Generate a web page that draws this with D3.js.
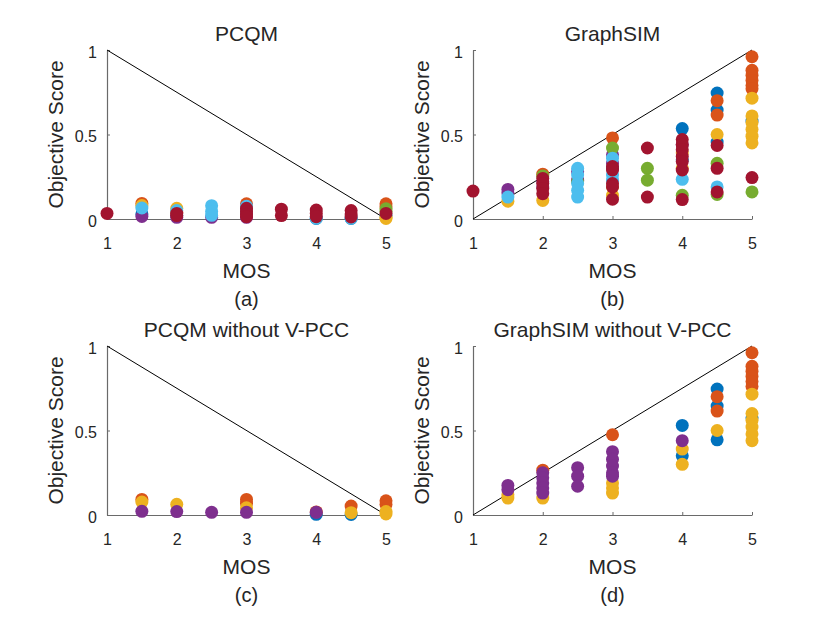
<!DOCTYPE html>
<html>
<head>
<meta charset="utf-8">
<script src="https://cdn.jsdelivr.net/npm/d3@7"></script>
<style>
  body { margin: 0; background: #fff; }
  text { font-family: "Liberation Sans", Arial, sans-serif; fill: #262626; }
</style>
</head>
<body>
<svg id="chart" width="830" height="623"></svg>
<script>
// matlab default colour order
const colors = ["#0072BD", "#D95319", "#EDB120", "#7E2F8E", "#77AC30", "#4DBEEE", "#A2142F"];
const mosTicks = [1, 2, 3, 4, 5];
const scoreTicks = [0, 0.5, 1];

// (a) PCQM : [MOS, score]
const pcqmBlue = [[1.5, 0.03], [2, 0.02], [3, 0.04], [4, 0.003], [4.5, 0.003], [5, 0.02]];
const pcqmOrange = [[1.5, 0.092], [2, 0.04], [3, 0.09], [5, 0.09], [5, 0.073]];
const pcqmYellow = [[1.5, 0.08], [2, 0.063], [3, 0.06], [5, 0.01], [5, 0.003]];
const pcqmPurple = [[1.5, 0.015], [2, 0.01], [2.5, 0.01], [3, 0.01]];
const pcqmGreen = [[5, 0.06], [5, 0.045]];
const pcqmLightBlue = [[1.5, 0.065], [2, 0.05], [2.5, 0.079], [2.5, 0.045], [2.5, 0.022], [3, 0.075], [3, 0.05], [4, 0.005], [4.5, 0.005]];
const pcqmDarkRed = [[1, 0.033], [2, 0.033], [2, 0.02], [3, 0.063], [3, 0.045], [3, 0.028], [3, 0.014],
  [3.5, 0.058], [3.5, 0.02], [4, 0.053], [4, 0.033], [4, 0.014], [4.5, 0.05], [4.5, 0.03], [4.5, 0.012], [5, 0.033]];

// (b) GraphSIM
const gsBlue = [[3, 0.3], [4, 0.535], [4, 0.35], [4.5, 0.745], [4.5, 0.645], [4.5, 0.455], [5, 0.58]];
const gsOrange = [[2, 0.265], [3, 0.48], [4.5, 0.70], [4.5, 0.615], [5, 0.96], [5, 0.88], [5, 0.85], [5, 0.82], [5, 0.79], [5, 0.77]];
const gsYellow = [[1.5, 0.105], [2, 0.11], [3, 0.14], [3, 0.19], [4, 0.3], [4, 0.39], [4.5, 0.5],
  [5, 0.715], [5, 0.61], [5, 0.57], [5, 0.53], [5, 0.49], [5, 0.45]];
const gsPurple = [[1.5, 0.175], [1.5, 0.155], [2, 0.22], [2, 0.19], [2.5, 0.28], [2.5, 0.23], [3, 0.38], [3, 0.33], [4, 0.44]];
const gsGreen = [[2, 0.255], [2.5, 0.22], [3, 0.42], [3.5, 0.30], [3.5, 0.23], [4, 0.14], [4.5, 0.33], [4.5, 0.145], [5, 0.16]];
const gsLightBlue = [[1.5, 0.13], [2.5, 0.30], [2.5, 0.26], [2.5, 0.21], [2.5, 0.17], [2.5, 0.13],
  [3, 0.36], [3, 0.26], [3, 0.23], [4, 0.235], [4.5, 0.19]];
const gsDarkRed = [[1, 0.165], [2, 0.24], [2, 0.21], [2, 0.18], [2, 0.15], [3, 0.31], [3, 0.29], [3, 0.21], [3, 0.19], [3, 0.117],
  [3.5, 0.42], [3.5, 0.13], [4, 0.47], [4, 0.44], [4, 0.41], [4, 0.37], [4, 0.34], [4, 0.29], [4, 0.115],
  [4.5, 0.435], [4.5, 0.30], [4.5, 0.16], [5, 0.245]];

// (c) PCQM without V-PCC
const pcqmNvBlue = [[4, 0.004], [4.5, 0.003]];
const pcqmNvOrange = [[1.5, 0.092], [3, 0.092], [3, 0.07], [4, 0.018], [4.5, 0.053], [5, 0.084], [5, 0.062]];
const pcqmNvYellow = [[1.5, 0.077], [2, 0.063], [3, 0.043], [4.5, 0.014], [5, 0.02], [5, 0.006]];
const pcqmNvPurple = [[1.5, 0.022], [2, 0.02], [2.5, 0.016], [3, 0.016], [4, 0.016]];

// (d) GraphSIM without V-PCC
const gsNvBlue = [[4, 0.53], [4, 0.35], [4.5, 0.745], [4.5, 0.645], [4.5, 0.445], [5, 0.575]];
const gsNvOrange = [[2, 0.265], [3, 0.475], [4.5, 0.70], [4.5, 0.615], [5, 0.96], [5, 0.88], [5, 0.85], [5, 0.82], [5, 0.79], [5, 0.76]];
const gsNvYellow = [[1.5, 0.10], [1.5, 0.12], [2, 0.10], [3, 0.19], [3, 0.16], [3, 0.13], [4, 0.39], [4, 0.30], [4.5, 0.50],
  [5, 0.715], [5, 0.60], [5, 0.56], [5, 0.52], [5, 0.48], [5, 0.44]];
const gsNvPurple = [[1.5, 0.175], [1.5, 0.15], [2, 0.25], [2, 0.22], [2, 0.19], [2, 0.16], [2, 0.13],
  [2.5, 0.28], [2.5, 0.23], [2.5, 0.17], [3, 0.375], [3, 0.33], [3, 0.29], [3, 0.25], [3, 0.23], [4, 0.44]];

const panels = [
  { title: "PCQM", tag: "(a)", left: 107, top: 50, diag: "down",
    series: [pcqmBlue, pcqmOrange, pcqmYellow, pcqmPurple, pcqmGreen, pcqmLightBlue, pcqmDarkRed] },
  { title: "GraphSIM", tag: "(b)", left: 473, top: 50, diag: "up",
    series: [gsBlue, gsOrange, gsYellow, gsPurple, gsGreen, gsLightBlue, gsDarkRed] },
  { title: "PCQM without V-PCC", tag: "(c)", left: 107, top: 346, diag: "down",
    series: [pcqmNvBlue, pcqmNvOrange, pcqmNvYellow, pcqmNvPurple] },
  { title: "GraphSIM without V-PCC", tag: "(d)", left: 473, top: 346, diag: "up",
    series: [gsNvBlue, gsNvOrange, gsNvYellow, gsNvPurple] }
];

const width = 279, height = 169;
const svg = d3.select("#chart");

panels.forEach(p => {
  const g = svg.append("g").attr("transform", `translate(${p.left},${p.top})`);

  const x = d3.scaleLinear().domain([1, 5]).range([0, width]);
  const y = d3.scaleLinear().domain([0, 1]).range([height, 0]);

  // axes, ticks pointing inward
  const xAxis = g.append("g")
    .attr("transform", `translate(0,${height})`)
    .call(d3.axisBottom(x).tickValues(mosTicks).tickSize(-3).tickPadding(19).tickSizeOuter(0).tickFormat(d3.format("d")));
  const yAxis = g.append("g")
    .call(d3.axisLeft(y).tickValues(scoreTicks).tickSize(-3).tickPadding(10).tickSizeOuter(0).tickFormat(d => d));

  [xAxis, yAxis].forEach(a => {
    a.select(".domain").attr("stroke", "#6a6a6a").attr("stroke-width", 1.2);
    a.selectAll(".tick line").attr("stroke", "#6a6a6a");
    a.selectAll(".tick text")
      .style("font-family", '"Liberation Sans", Arial, sans-serif')
      .style("font-size", "16px")
      .attr("fill", "#262626");
  });
  yAxis.selectAll(".tick text").attr("dy", "0.45em");

  // reference line
  const ends = p.diag === "up" ? [[1, 0], [5, 1]] : [[1, 1], [5, 0]];
  g.append("line")
    .attr("x1", x(ends[0][0])).attr("y1", y(ends[0][1]))
    .attr("x2", x(ends[1][0])).attr("y2", y(ends[1][1]))
    .attr("stroke", "#000").attr("stroke-width", 1);

  // scatter, one colour per series, drawn in order
  p.series.forEach((s, i) => {
    g.append("g").selectAll("circle")
      .data(s)
      .join("circle")
      .attr("cx", d => x(d[0]))
      .attr("cy", d => y(d[1]))
      .attr("r", 6.5)
      .attr("fill", colors[i]);
  });

  g.append("text")
    .attr("x", width / 2).attr("y", -9)
    .attr("text-anchor", "middle")
    .style("font-size", "21px")
    .text(p.title);

  g.append("text")
    .attr("x", width / 2).attr("y", height + 59)
    .attr("text-anchor", "middle")
    .style("font-size", "21px")
    .text("MOS");

  g.append("text")
    .attr("x", width / 2).attr("y", height + 87)
    .attr("text-anchor", "middle")
    .style("font-size", "20px")
    .text(p.tag);

  g.append("text")
    .attr("transform", `translate(-44,${height / 2}) rotate(-90)`)
    .attr("text-anchor", "middle")
    .style("font-size", "21px")
    .text("Objective Score");
});
</script>
</body>
</html>
